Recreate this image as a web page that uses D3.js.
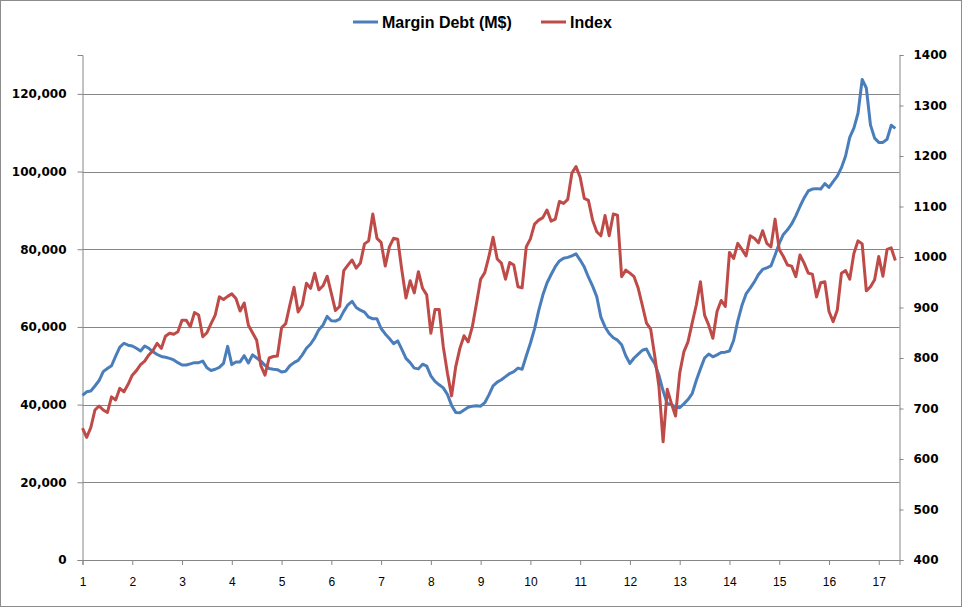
<!DOCTYPE html>
<html><head><meta charset="utf-8">
<script src="https://cdn.jsdelivr.net/npm/d3@7"></script>
<style>
html,body{margin:0;padding:0;background:#fff;}
svg{display:block;}
</style></head>
<body>
<svg id="chart" width="962" height="608"></svg>
<script>
// ---- data ----
const seriesNames = ["Margin Debt (M$)", "Index"];
const xTickLabels = ["1","2","3","4","5","6","7","8","9","10","11","12","13","14","15","16","17"];
const leftTicks = [0,20000,40000,60000,80000,100000,120000];
const rightTicks = [400,500,600,700,800,900,1000,1100,1200,1300,1400];
// Margin debt, thousands of M$ (monthly)
const marginDebtK = [
42.4,43.3,43.5,44.8,46.2,48.5,49.3,50.0,52.5,54.8,
55.8,55.3,55.1,54.5,53.8,55.1,54.5,53.6,52.9,52.4,
52.2,51.9,51.5,50.8,50.2,50.2,50.5,50.8,50.8,51.2,
49.5,48.8,49.1,49.6,50.6,55.0,50.3,51.0,51.0,52.6,
50.7,52.8,52.0,51.2,50.1,49.3,49.1,49.0,48.4,48.6,
50.0,50.8,51.4,52.8,54.5,55.6,57.2,59.3,60.5,62.7,
61.6,61.5,62.0,64.0,65.7,66.6,65.0,64.3,63.8,62.5,
62.1,62.1,59.6,58.2,57.0,55.7,56.4,54.2,51.9,50.8,
49.4,49.2,50.4,49.9,47.4,46.0,45.1,44.3,42.6,39.8,
38.0,37.9,38.6,39.3,39.6,39.7,39.6,40.5,42.5,44.8,
45.8,46.4,47.2,48.0,48.5,49.4,49.1,52.5,55.8,59.5,
64.2,68.2,71.3,73.5,75.5,77.0,77.7,77.9,78.3,78.8,
77.2,75.4,72.8,70.5,67.8,62.5,60.0,58.3,57.2,56.6,
55.4,52.6,50.6,52.0,53.0,54.0,54.3,52.2,50.5,47.5,
43.5,40.3,40.0,39.4,39.2,40.2,41.3,42.8,46.2,49.2,
52.0,53.0,52.3,52.8,53.4,53.5,53.8,56.5,61.5,65.5,
68.5,70.0,71.6,73.5,74.8,75.2,75.7,78.5,81.5,83.8,
85.0,86.5,88.6,91.0,93.2,95.0,95.5,95.6,95.5,96.9,
95.9,97.4,98.8,101.0,104.0,108.8,111.2,115.0,123.7,121.5,
112.0,108.6,107.5,107.5,108.3,111.9,111.1
];
// Index (monthly)
const indexValues = [
661,643,662,697,705,697,692,723,717,740,
733,748,766,775,787,794,806,815,829,819,
843,849,847,852,875,875,862,890,885,842,
850,868,885,921,916,922,927,918,893,909,
865,850,835,785,766,800,803,804,860,868,
905,940,891,905,948,938,968,935,943,962,
928,894,902,973,984,994,978,988,1026,1032,
1085,1037,1029,982,1020,1037,1035,974,919,953,
929,971,938,925,849,896,896,822,770,725,
783,819,844,832,862,908,956,969,1001,1039,
996,988,956,989,984,941,939,1020,1036,1065,
1073,1078,1093,1071,1075,1110,1106,1114,1166,1179,
1158,1116,1112,1073,1050,1042,1082,1042,1085,1083,
961,974,968,961,938,904,869,857,803,743,
634,738,710,685,770,812,832,869,905,951,
885,865,839,892,914,902,1009,997,1027,1015,
1002,1042,1037,1028,1052,1027,1020,1075,1015,1001,
984,982,961,1004,988,968,966,921,949,951,
892,872,895,968,973,956,1007,1032,1026,933,
941,955,1001,962,1015,1018,993
];

// ---- layout ----
const svg = d3.select("#chart");
const W = 962, H = 608;
const L = 82.5, R = 899.5, T = 55, B = 560;
const colors = ["#4A7EBB", "#BE4B48"];
const gridColor = "#868686";

svg.append("rect").attr("x",0.5).attr("y",0.5).attr("width",W-1).attr("height",H-2)
  .attr("fill","#fff").attr("stroke","#8c8c8c").attr("stroke-width",1);

const x = d3.scaleLinear().domain([0, 197]).range([L, R]);
const yL = d3.scaleLinear().domain([0, 130000]).range([B, T]);
const yR = d3.scaleLinear().domain([400, 1400]).range([B, T]);

// gridlines
svg.append("g").selectAll("line").data(leftTicks.filter(d=>d>0)).join("line")
  .attr("x1",L).attr("x2",R)
  .attr("y1",d=>Math.round(yL(d))+0.5).attr("y2",d=>Math.round(yL(d))+0.5)
  .attr("stroke",gridColor).attr("stroke-width",1);

// left axis
const axL = d3.axisLeft(yL).tickValues(leftTicks).tickSize(5).tickPadding(11)
  .tickFormat(d3.format(","));
const gL = svg.append("g").attr("transform",`translate(${L},0)`).call(axL);
// right axis
const axR = d3.axisRight(yR).tickValues(rightTicks).tickSize(4).tickPadding(10)
  .tickFormat(d=>String(d));
const gR = svg.append("g").attr("transform",`translate(${R},0)`).call(axR);
// bottom axis
const xTickVals = xTickLabels.map((d,i)=>i*12);
const axB = d3.axisBottom(x).tickValues(xTickVals).tickSize(5).tickPadding(12)
  .tickFormat((d,i)=>xTickLabels[i]);
const gB = svg.append("g").attr("transform",`translate(0,${B})`).call(axB);

[gL,gR,gB].forEach(g=>{
  g.select(".domain").attr("stroke",gridColor).attr("stroke-width",1);
  g.selectAll(".tick line").attr("stroke",gridColor).attr("stroke-width",1);
});
gL.selectAll("text").attr("font-family","'DejaVu Sans', sans-serif").attr("font-weight","bold")
  .attr("font-size",12).attr("fill","#000");
gR.selectAll("text").attr("font-family","'DejaVu Sans', sans-serif").attr("font-weight","bold")
  .attr("font-size",12).attr("fill","#000");
gB.selectAll("text").attr("font-family","'Liberation Sans',sans-serif")
  .attr("font-size",12).attr("fill","#000");

// lines
const lineL = d3.line().x((d,i)=>x(i)).y(d=>yL(d*1000)).curve(d3.curveLinear);
const lineR = d3.line().x((d,i)=>x(i)).y(d=>yR(d)).curve(d3.curveLinear);
svg.append("path").datum(marginDebtK).attr("d",lineL)
  .attr("fill","none").attr("stroke",colors[0]).attr("stroke-width",3).attr("stroke-linejoin","round");
svg.append("path").datum(indexValues).attr("d",lineR)
  .attr("fill","none").attr("stroke",colors[1]).attr("stroke-width",3).attr("stroke-linejoin","round");

// legend
const legendX = [353, 541];
const lg = svg.append("g");
seriesNames.forEach((name,i)=>{
  lg.append("line").attr("x1",legendX[i]).attr("x2",legendX[i]+25)
    .attr("y1",22).attr("y2",22).attr("stroke",colors[i]).attr("stroke-width",3);
  lg.append("text").attr("x",legendX[i]+29).attr("y",28)
    .attr("font-family","'Liberation Sans',sans-serif")
    .attr("font-weight","bold").attr("font-size",16).attr("fill","#000").text(name);
});
</script>
</body></html>
